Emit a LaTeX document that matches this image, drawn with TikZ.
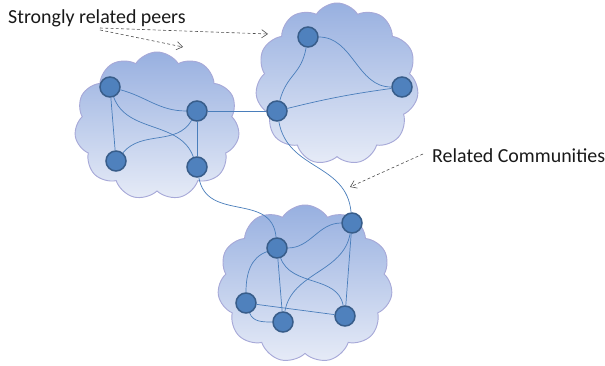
\documentclass[tikz,border=0pt]{standalone}
\usepackage{fontspec}
\setmainfont{Carlito}
\usepackage{tikz}
\usetikzlibrary{shapes.symbols,arrows.meta,calc}

\definecolor{peerfill}{HTML}{4F81BD}
\definecolor{peerline}{HTML}{385D8A}
\definecolor{linkcol}{HTML}{4A7EBB}
\definecolor{cloudtop}{HTML}{98B0E0}
\definecolor{cloudbot}{HTML}{E6EBF7}
\definecolor{cloudrim}{HTML}{A7A9D8}

\tikzset{
  peer/.style={circle,fill=peerfill,draw=peerline,line width=1.3pt,minimum size=0.6cm,inner sep=0pt},
  community/.style={cloud,cloud puffs=11,cloud puff arc=115,cloud ignores aspect,
    top color=cloudtop,bottom color=cloudbot,draw=cloudrim,line width=0.8pt,inner sep=0pt},
  link/.style={draw=linkcol,line width=0.6pt},
  hint/.style={draw=black!70,dash pattern=on 2.5pt off 2pt,line width=0.5pt,-{Straight Barb[length=5pt,width=7pt]}},
  caption/.style={font=\fontsize{17}{19}\selectfont,anchor=west,inner sep=0pt,text=black!90}
}

\begin{document}
\begin{tikzpicture}[x=0.03cm,y=0.03cm]
  \useasboundingbox (0,0) rectangle (605,366);

  % the three communities
  \node[community,minimum width=4.95cm,minimum height=4.44cm] (cl) at (157,240) {};
  \node[community,minimum width=4.89cm,minimum height=4.86cm] (cr) at (337,282) {};
  \node[community,minimum width=5.25cm,minimum height=4.74cm] (cb) at (305,82) {};

  % peers
  \node[peer] (a1) at (110,279) {};
  \node[peer] (a2) at (197,255) {};
  \node[peer] (a3) at (116,205) {};
  \node[peer] (a4) at (197,199) {};

  \node[peer] (b1) at (308,329) {};
  \node[peer] (b2) at (402,279) {};
  \node[peer] (b3) at (277,255) {};

  \node[peer] (c1) at (277,118) {};
  \node[peer] (c2) at (352,143) {};
  \node[peer] (c3) at (246,63) {};
  \node[peer] (c4) at (283,44) {};
  \node[peer] (c5) at (345,50) {};

  % links inside and between communities
  \path[link]
    (a1) edge[out=-15,in=180] (a2)
    (a1) edge (a3)
    (a1) edge[out=-70,in=110] (a4)
    (a2) edge[out=-120,in=50] (a3)
    (a2) edge (a4)
    (a2) edge (b3)
    (a4) edge[out=-80,in=95,looseness=1.2] (c1)
    (b1) edge[out=-100,in=75,looseness=1.2] (b3)
    (b1) edge[out=0,in=180] (b2)
    (b3) edge[bend left=3] (b2)
    (b3) edge[out=-80,in=95,looseness=1.1] (c2)
    (c1) edge[out=0,in=180] (c2)
    (c1) edge[out=200,in=90] (c3)
    (c1) edge (c4)
    (c1) edge[out=-70,in=100] (c5)
    (c2) edge[out=-100,in=80] (c4)
    (c2) edge (c5)
    (c3) edge (c5)
    (c3) edge[out=-70,in=180] (c4);

  % captions
  \node[caption] (strong) at (8,348) {Strongly related peers};
  \node[caption] (related) at (432,210) {Related Communities};

  \coordinate (s1) at (100,336);
  \coordinate (s2) at (100,338);
  \coordinate (t1) at (183,319);
  \coordinate (t2) at (268,332);
  \coordinate (s3) at (423,212);
  \coordinate (t3) at (350,179);

  \draw[hint] (s1) -- (t1);
  \draw[hint] (s2) -- (t2);
  \draw[hint] (s3) -- (t3);
\end{tikzpicture}
\end{document}
